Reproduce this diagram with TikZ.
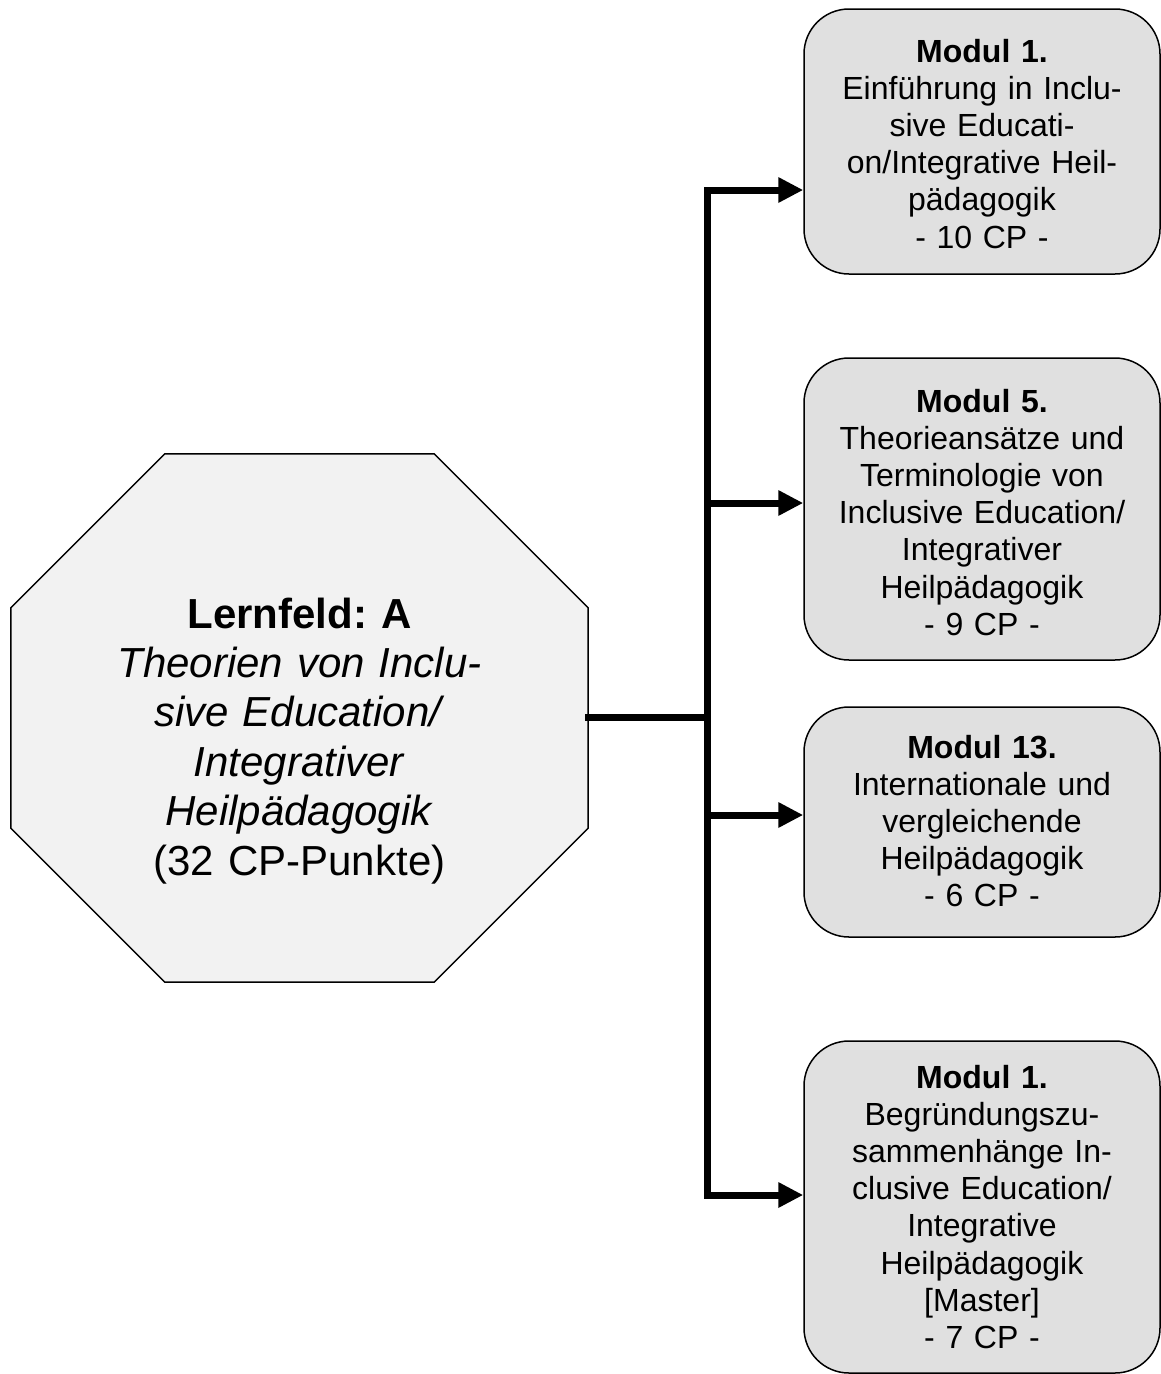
\documentclass[tikz,border=0pt]{standalone}
\usepackage{fontspec}
\setmainfont{Liberation Sans}
\usetikzlibrary{arrows.meta,backgrounds,calc}
\definecolor{modfill}{RGB}{224,224,224}
\definecolor{octfill}{RGB}{242,242,242}
\frenchspacing
\begin{document}
\begin{tikzpicture}[x=1pt,y=-1pt,
  modbox/.style={draw=black,line width=1.5pt,fill=modfill,rounded corners=45pt,
    minimum width=356pt,inner sep=0pt},
  modtext/.style={anchor=base,inner sep=0pt,text width=350pt,align=center,
    font=\fontsize{32}{37.2}\selectfont},
  lerntext/.style={anchor=base,inner sep=0pt,text width=500pt,align=center,
    font=\fontsize{42}{49.4}\selectfont},
  bus/.style={line width=7pt,line cap=rect},
  feed/.style={line width=7pt,-{Triangle[length=25pt,width=24pt]}},
]
\useasboundingbox (0,0) rectangle (1161,1374);

% learning field: octagon around a frame node
\node[minimum width=577pt,minimum height=528pt,inner sep=0pt] (lern) at (299.5,718) {};
\begin{scope}[on background layer]
\filldraw[fill=octfill,draw=black,line width=1.5pt]
  ($(lern.north west)+(154,0)$) -- ($(lern.north east)+(-154,0)$) --
  ($(lern.north east)+(0,154)$) -- ($(lern.south east)+(0,-154)$) --
  ($(lern.south east)+(-154,0)$) -- ($(lern.south west)+(154,0)$) --
  ($(lern.south west)+(0,-154)$) -- ($(lern.north west)+(0,154)$) -- cycle;
\end{scope}
\node[lerntext] (lerntitle) at (299.5,628)
  {\textbf{Lernfeld: A}\\
   \textit{Theorien von Inclu-}\\
   \textit{sive Education/}\\
   \textit{Integrativer}\\
   \textit{Heilpädagogik}\\
   (32 CP-Punkte)};

% module boxes
\node[modbox,minimum height=265pt] (m1) at (982,141.5) {};
\node[modbox,minimum height=302pt] (m2) at (982,509) {};
\node[modbox,minimum height=230pt] (m3) at (982,822) {};
\node[modbox,minimum height=332pt] (m4) at (982,1207) {};

\node[modtext] (t1) at (982,62)
  {\textbf{Modul 1.}\\ Einführung in Inclu-\\ sive Educati-\\ on/Integrative Heil-\\ pädagogik\\ - 10 CP -};
\node[modtext] (t2) at (982,412)
  {\textbf{Modul 5.}\\ Theorieansätze und\\ Terminologie von\\ Inclusive Education/\\ Integrativer\\ Heilpädagogik\\ - 9 CP -};
\node[modtext] (t3) at (982,758)
  {\textbf{Modul 13.}\\ Internationale und\\ vergleichende\\ Heilpädagogik\\ - 6 CP -};
\node[modtext] (t4) at (982,1088)
  {\textbf{Modul 1.}\\ Begründungszu-\\ sammenhänge In-\\ clusive Education/\\ Integrative\\ Heilpädagogik\\ {[Master]}\\ - 7 CP -};

% connectors
\coordinate (jm) at (707.5,717);
\coordinate (ja) at (707.5,190);
\coordinate (jb) at (707.5,503);
\coordinate (jc) at (707.5,815);
\coordinate (jd) at (707.5,1195);
\draw[bus] (lern.east |- jm) -- (jm);
\draw[bus] (ja) -- (jd);
\draw[feed] (ja) -- (m1.west |- ja);
\draw[feed] (jb) -- (m2.west |- jb);
\draw[feed] (jc) -- (m3.west |- jc);
\draw[feed] (jd) -- (m4.west |- jd);
\end{tikzpicture}
\end{document}
